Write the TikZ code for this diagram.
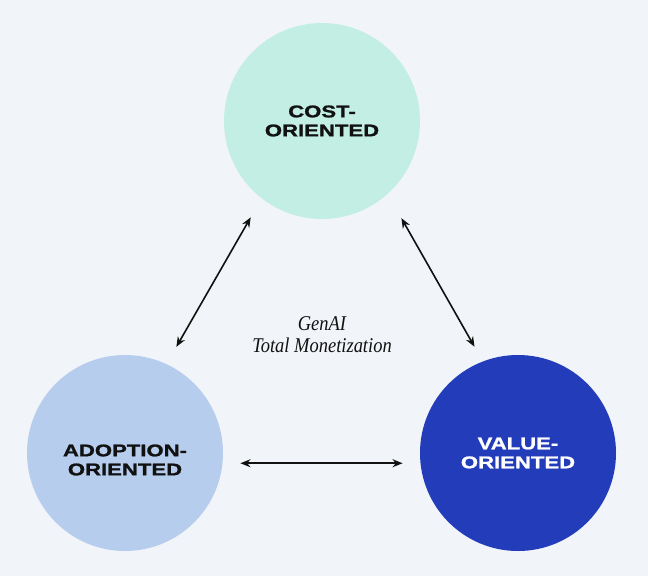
\documentclass[tikz,border=0pt]{standalone}
\usepackage{fontspec}
\usepackage{tikz}
\usetikzlibrary{
        arrows.meta,
        positioning
    }
\newfontfamily\widefont[FakeStretch=1.3,BoldFeatures={FakeBold=1.2}]{Liberation Sans}
\newfontfamily\italfont[FakeStretch=0.88]{Liberation Serif}
\definecolor{bgcol}{HTML}{F1F4F8}
\definecolor{costfill}{HTML}{C3EEE3}
\definecolor{adoptfill}{HTML}{B7CDEE}
\definecolor{valuefill}{HTML}{233CB9}
\definecolor{inkcol}{HTML}{111111}
\tikzset{>={Stealth[length=10pt,width=8pt]},auto,node distance=197pt}
\tikzset{blobtext/.style={align=center,text=inkcol,font=\widefont\bfseries\fontsize{17}{19}\selectfont}}
\tikzset{blob/.style={circle,minimum size=196pt,inner sep=0pt,outer sep=0pt,blobtext}}

\begin{document}
\begin{tikzpicture}[x=1pt,y=-1pt,line width=1.6pt]
                    \fill[bgcol] (0,0) rectangle (648,576);
                    \useasboundingbox (0,0) rectangle (648,576);

                        \node[blob,fill=costfill] (cost) at (322,121) {COST-\\ORIENTED};
                        \node[blob,fill=adoptfill,
                              label={[blobtext,yshift=-7pt]center:ADOPTION-\\ORIENTED}] (adopt) at (125,453) {};
                        \node[blob,fill=valuefill,text=white] (value) [right=of adopt] {VALUE-\\ORIENTED};
                        \node[align=center,text=inkcol,font=\italfont\itshape\fontsize{21}{22}\selectfont] (genai) at (322,335) {GenAI\\Total Monetization};
                    \path[<->,color=inkcol]
                            (cost.232) edge[shorten <=22pt,shorten >=20pt]   (adopt.65)
                            (cost.312) edge[shorten <=28pt,shorten >=17pt]   (value.111)
                            (adopt.354) edge[shorten <=18pt,shorten >=18pt] (value.186)
                            ;
\end{tikzpicture}
\end{document}
